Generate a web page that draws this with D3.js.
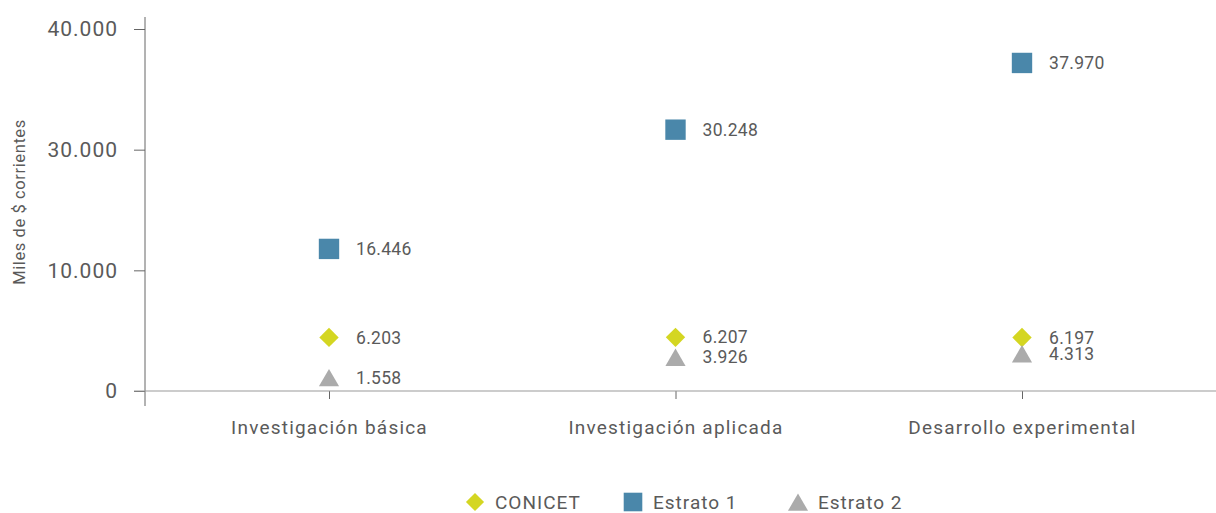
<!DOCTYPE html>
<html>
<head>
<meta charset="utf-8">
<script src="https://cdn.jsdelivr.net/npm/d3@7"></script>
<style>
  body { margin: 0; background: #fff; }
  text { font-family: Roboto, "Noto Sans", sans-serif; fill: #5a5a5a; }
</style>
</head>
<body>
<div class="chart"></div>
<script>
// data
var categories = ["Investigación básica", "Investigación aplicada", "Desarrollo experimental"];
var conicet = [6203, 6207, 6197];
var estrato1 = [16446, 30248, 37970];
var estrato2 = [1558, 3926, 4313];
var seriesNames = ["CONICET", "Estrato 1", "Estrato 2"];
// the axis in the original is labelled like this (no 20.000)
var tickValues = [0, 13967, 27933, 41900];
var tickLabels = ["0", "10.000", "30.000", "40.000"];

var svgWidth = 1216, svgHeight = 513;
var colors = { "CONICET": "#d4d622", "Estrato 1": "#4a87aa", "Estrato 2": "#ababab" };
var shapes = { "CONICET": d3.symbolDiamond2, "Estrato 1": d3.symbolSquare2, "Estrato 2": d3.symbolTriangle2 };

var svg = d3.select(".chart")
    .append("svg")
    .attr("width", svgWidth)
    .attr("height", svgHeight);

var x = d3.scalePoint()
    .domain(categories)
    .range([329, 1022]);

var y = d3.scaleLinear()
    .domain([0, 41900])
    .range([391, 29]);

var fmt = d3.formatLocale({ decimal: ",", thousands: ".", grouping: [3] }).format(",d");

// y axis
var yAxis = svg.append("g")
    .attr("transform", "translate(145,0)")
    .call(d3.axisLeft(y).tickValues(tickValues).tickFormat(function(d, i) { return tickLabels[i]; }).tickSize(11).tickPadding(16));
yAxis.select(".domain").remove();
yAxis.selectAll("line").attr("stroke", "#666");
yAxis.selectAll("text")
    .attr("font-size", 21)
    .attr("fill", "#5a5a5a")
    .attr("font-family", "Roboto")
    .attr("letter-spacing", "1px");

svg.append("line")
    .attr("x1", 145).attr("x2", 145)
    .attr("y1", 17).attr("y2", 406)
    .attr("stroke", "#666");

// x axis
var xAxis = svg.append("g")
    .attr("transform", "translate(0,391)")
    .call(d3.axisBottom(x).tickSize(8).tickPadding(22));
xAxis.select(".domain").remove();
xAxis.selectAll("line").attr("stroke", "#666");
xAxis.selectAll("text")
    .attr("font-size", 19)
    .attr("fill", "#5a5a5a")
    .attr("font-family", "Roboto")
    .attr("letter-spacing", "1.2px");

svg.append("line")
    .attr("x1", 134).attr("x2", svgWidth)
    .attr("y1", 391).attr("y2", 391)
    .attr("stroke", "#999");

svg.append("text")
    .attr("transform", "translate(25,202) rotate(-90)")
    .attr("text-anchor", "middle")
    .attr("font-size", 16.5)
    .attr("letter-spacing", "0.6px")
    .text("Miles de $ corrientes");

// points
var series = [
    { name: "CONICET", values: conicet },
    { name: "Estrato 1", values: estrato1 },
    { name: "Estrato 2", values: estrato2 }
];

var sizes = { "CONICET": 240, "Estrato 1": 529, "Estrato 2": 290 };

series.forEach(function(s) {
    var g = svg.append("g");
    var pts = g.selectAll("g")
        .data(s.values)
        .enter()
        .append("g")
        .attr("transform", function(d, i) { return "translate(" + x(categories[i]) + "," + y(d) + ")"; });

    pts.append("path")
        .attr("d", d3.symbol().type(shapes[s.name]).size(sizes[s.name]))
        .attr("transform", s.name == "Estrato 2" ? "translate(0,3)" : null)
        .attr("fill", colors[s.name]);

    pts.append("text")
        .attr("x", 27)
        .attr("dy", "0.35em")
        .attr("font-size", 17.5)
        .attr("letter-spacing", "0.3px")
        .text(function(d) { return fmt(d); });
});

// legend
var legendX = [475, 633, 798];
var legend = svg.append("g");
seriesNames.forEach(function(name, i) {
    var lg = legend.append("g")
        .attr("transform", "translate(" + legendX[i] + ",502)");
    lg.append("path")
        .attr("d", d3.symbol().type(shapes[name]).size(name == "Estrato 1" ? 441 : (name == "CONICET" ? 210 : 290)))
        .attr("transform", name == "Estrato 2" ? "translate(0,3)" : null)
        .attr("fill", colors[name]);
    lg.append("text")
        .attr("x", 20)
        .attr("dy", "0.35em")
        .attr("font-size", 19)
        .attr("letter-spacing", "1px")
        .text(name);
});
</script>
</body>
</html>
